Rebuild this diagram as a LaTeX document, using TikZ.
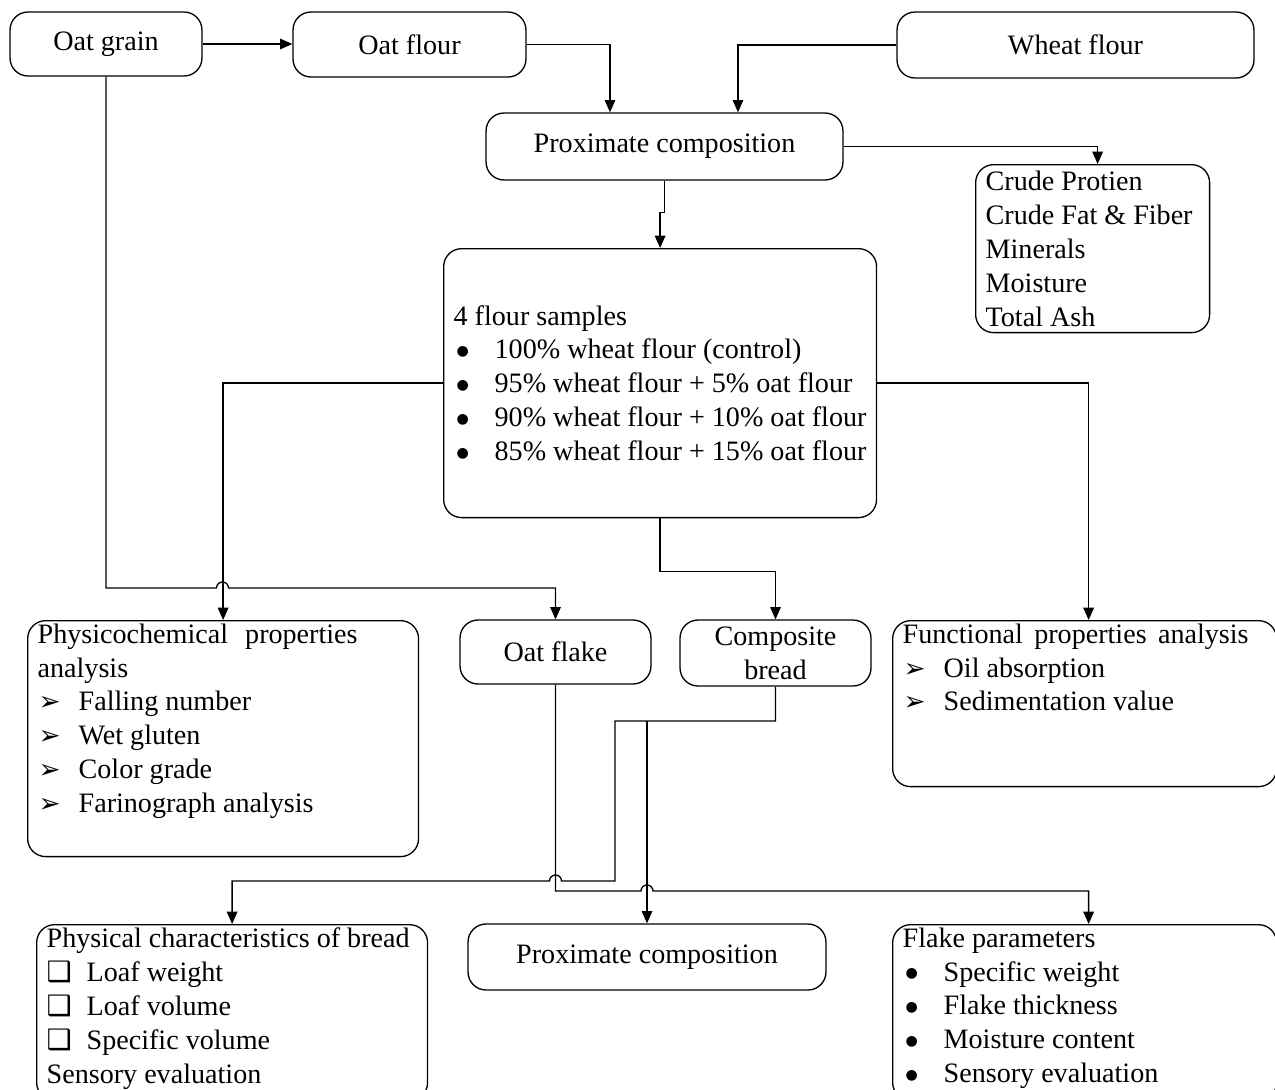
\documentclass[tikz,border=0pt]{standalone}
\usepackage{fontspec}
\setmainfont{Liberation Serif}
\newfontfamily\dingfont{DejaVu Sans}
\usetikzlibrary{arrows.meta}

\newcommand{\dotbul}{\makebox[0.82cm][l]{\hspace{0.06cm}\raisebox{2pt}{\dingfont\fontsize{8}{8}\selectfont ●}}}
\newcommand{\arrbul}{\makebox[0.82cm][l]{\hspace{0.02cm}{\dingfont\fontsize{15}{15}\selectfont ➢}}}
\newcommand{\sqbul}{\makebox[0.8cm][l]{{\dingfont\fontsize{16}{16}\selectfont ❑}}}

\begin{document}
\begin{tikzpicture}[x=0.02cm, y=0.02cm,
  font=\fontsize{16}{19.3}\selectfont,
  line width=0.75pt,
  >={Triangle[length=7pt,width=6pt]},
  box/.style={draw, rounded corners=0.36cm, inner sep=0pt},
  topbox/.style={draw, rounded corners=0.36cm, inner xsep=0.2cm, inner ysep=0.06cm, anchor=north west}]

\useasboundingbox (0,0) rectangle (1275,-1089);

% top row
\node[box, minimum width=3.84cm, minimum height=1.28cm] (grain) at (106,-44) {Oat grain};
\node[box, minimum width=4.66cm, minimum height=1.3cm] (oatflour) at (409.5,-44.5) {Oat flour};
\node[box, minimum width=7.14cm, minimum height=1.32cm] (wheat) at (1075.5,-45) {Wheat flour};

\node[box, minimum width=7.14cm, minimum height=1.34cm] (prox) at (664.5,-146.5) {Proximate composition};
\node[topbox] (crude) at (975,-164)
  {\parbox[c][3.24cm][c]{4.28cm}{Crude Protien\\Crude Fat \& Fiber\\Minerals\\Moisture\\Total Ash}};

\node[topbox] (samples) at (443,-248)
  {\parbox[c][5.26cm][c]{8.26cm}{4 flour samples\\
   \dotbul 100\% wheat flour (control)\\
   \dotbul 95\% wheat flour + 5\% oat flour\\
   \dotbul 90\% wheat flour + 10\% oat flour\\
   \dotbul 85\% wheat flour + 15\% oat flour}};

% middle row
\node[topbox] (physico) at (27,-620)
  {\parbox[c][4.6cm][t]{7.42cm}{\makebox[6.4cm][s]{Physicochemical properties}\\
   analysis\\
   \arrbul Falling number\\
   \arrbul Wet gluten\\
   \arrbul Color grade\\
   \arrbul Farinograph analysis}};
\node[box, minimum width=3.82cm, minimum height=1.28cm] (oatflake) at (555.5,-652) {Oat flake};
\node[box, minimum width=3.82cm, minimum height=1.32cm, align=center] (bread) at (775.5,-653) {Composite\\bread};
\node[topbox] (functional) at (892,-620)
  {\parbox[c][3.2cm][t]{7.28cm}{\makebox[6.92cm][s]{Functional properties analysis}\\
   \arrbul Oil absorption\\
   \arrbul Sedimentation value}};

% bottom row
\node[topbox] (physical) at (36,-924)
  {\parbox[c][3.4cm][t]{7.42cm}{Physical characteristics of bread\\
   \sqbul Loaf weight\\
   \sqbul Loaf volume\\
   \sqbul Specific volume\\
   Sensory evaluation}};
\node[box, minimum width=7.16cm, minimum height=1.32cm] (proxb) at (647,-957) {Proximate composition};
\node[topbox] (flakepar) at (892,-924)
  {\parbox[c][3.4cm][t]{7.28cm}{Flake parameters\\
   \dotbul Specific weight\\
   \dotbul Flake thickness\\
   \dotbul Moisture content\\
   \dotbul Sensory evaluation}};

% connectors
\draw[->] (grain.east) -- (grain.east -| oatflour.west);
\draw[->] (oatflour.east) -| ([xshift=-1.09cm]prox.north);
\draw[->] (wheat.west) -| ([xshift=1.47cm]prox.north);
\draw[->] (prox.east) -| ([xshift=0.1cm]crude.north);
\draw[->] (prox.south) -- ++(0,-32) -| (samples.north);

\draw[->] (samples.south) -- ++(0,-53) -| (bread.north);
\draw[->] (samples.west) -| (physico.north);
\draw[->] (samples.east) -| ([xshift=0.08cm]functional.north);
\draw[->] (grain.south) |- (216.5,-588) arc (180:0:6) -| (oatflake.north);

\coordinate (split) at (proxb.north |- 0,-721);
\draw[->] (oatflake.south) |- (641,-891) arc (180:0:6) -| ([xshift=0.08cm]flakepar.north);
\draw[->] (bread.south) |- (615,-721) |- (561.5,-881) arc (0:180:6) -| (physical.north);
\draw[->] (split) -- (proxb.north);

\end{tikzpicture}
\end{document}
